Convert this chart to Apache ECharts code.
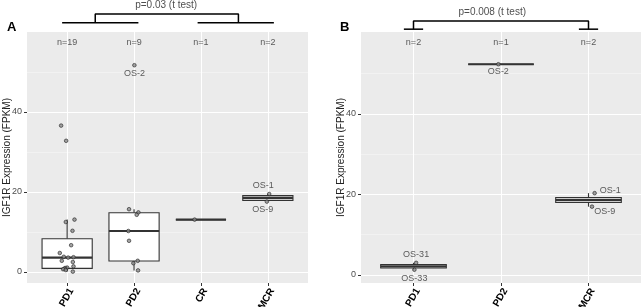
<!DOCTYPE html>
<html>
<head>
<meta charset="utf-8">
<script src="https://cdn.jsdelivr.net/npm/echarts@6/dist/echarts.min.js"></script>
<style>
  html, body { margin: 0; padding: 0; background: #fff; }
  #chart { width: 643px; height: 307px; }
</style>
</head>
<body>
<div id="chart"></div>
<script>
// panel A
const groupsA = ['PD1', 'PD2', 'CR', 'MCR'];
const countsA = ['n=19', 'n=9', 'n=1', 'n=2'];
// [min, q1, median, q3, max]
const boxA = [
  [0.1, 0.9, 3.6, 8.3, 13.1],
  [0.4, 2.75, 10.25, 14.8, 15.7],
  [13.1, 13.1, 13.1, 13.1, 13.1],
  [17.6, 17.9, 18.55, 19.1, 19.5]
];
// [group, jitter, FPKM, sample]
const pointsA = [
  [0, -0.09, 36.6, ''], [0, -0.015, 32.8, ''], [0, 0.11, 13.1, ''], [0, -0.02, 12.5, ''],
  [0, 0.08, 10.3, ''], [0, 0.06, 6.7, ''], [0, -0.11, 4.75, ''], [0, -0.05, 3.8, ''],
  [0, 0.095, 3.7, ''], [0, 0.015, 3.6, ''], [0, -0.08, 2.8, ''], [0, 0.085, 2.5, ''],
  [0, 0.095, 1.4, ''], [0, 0, 1.1, ''], [0, -0.03, 1.0, ''], [0, -0.04, 0.8, ''],
  [0, -0.06, 0.7, ''], [0, -0.02, 0.5, ''], [0, 0.085, 0.1, ''],
  [1, 0.005, 51.7, 'OS-2'], [1, -0.075, 15.7, ''], [1, 0.065, 14.9, ''], [1, 0.04, 14.3, ''],
  [1, -0.085, 10.25, ''], [1, -0.075, 7.8, ''], [1, 0.055, 2.8, ''], [1, -0.01, 2.2, ''],
  [1, 0.06, 0.4, ''],
  [2, -0.095, 13.1, ''],
  [3, 0.02, 19.5, 'OS-1'], [3, -0.015, 17.6, 'OS-9']
];
const bracketA = [
  [[-0.075, 62.3], [1.065, 62.3]],
  [[0.42, 62.3], [0.42, 64.5], [2.56, 64.5], [2.56, 62.3]],
  [[1.95, 62.3], [3.09, 62.3]]
];
const pTextA = 'p=0.03 (t test)';

// panel B
const groupsB = ['PD1', 'PD2', 'MCR'];
const countsB = ['n=2', 'n=1', 'n=2'];
const boxB = [
  [1.3, 1.73, 2.15, 2.58, 3.0],
  [52.3, 52.3, 52.3, 52.3, 52.3],
  [16.95, 18.0, 18.6, 19.2, 20.3]
];
const pointsB = [
  [0, 0.03, 3.0, 'OS-31'], [0, 0.01, 1.3, 'OS-33'],
  [1, -0.03, 52.3, 'OS-2'],
  [2, 0.07, 20.3, 'OS-1'], [2, 0.04, 16.95, 'OS-9']
];
const bracketB = [
  [[-0.11, 61], [0.11, 61]],
  [[0, 61], [0, 63], [2, 63], [2, 61]],
  [[1.89, 61], [2.11, 61]]
];
const pTextB = 'p=0.008 (t test)';

const yTicks = [0, 20, 40];
const yMinor = [10, 30, 50];

const FONT = '"Liberation Sans", Arial, sans-serif';
const INK = '#333';

// where each sample label sits relative to its point
const labelPlace = {
  'A:OS-2': { position: 'bottom', distance: 2 },
  'A:OS-1': { position: 'top', distance: 2, offset: [-6, 0] },
  'A:OS-9': { position: 'bottom', distance: 1, offset: [-4, 0] },
  'B:OS-31': { position: 'top', distance: 2 },
  'B:OS-33': { position: 'bottom', distance: 2 },
  'B:OS-2': { position: 'bottom', distance: 1 },
  'B:OS-1': { position: 'right', distance: 3, offset: [0, -3] },
  'B:OS-9': { position: 'right', distance: 0, offset: [0, 5] }
};

function renderBox(params, api) {
  const x = api.value(0);
  const hw = api.size([0.75, 0])[0] / 2;
  const at = (i) => api.coord([x, api.value(i)]);
  const lo = at(1), q1 = at(2), md = at(3), q3 = at(4), hi = at(5);
  const stroke = { stroke: INK, lineWidth: 1.1 };
  return {
    type: 'group',
    children: [
      { type: 'line', shape: { x1: lo[0], y1: lo[1], x2: q1[0], y2: q1[1] }, style: stroke },
      { type: 'line', shape: { x1: q3[0], y1: q3[1], x2: hi[0], y2: hi[1] }, style: stroke },
      { type: 'rect', shape: { x: q3[0] - hw, y: q3[1], width: hw * 2, height: q1[1] - q3[1] },
        style: { fill: '#fff', stroke: INK, lineWidth: 1.1 } },
      { type: 'line', shape: { x1: md[0] - hw, y1: md[1], x2: md[0] + hw, y2: md[1] },
        style: { stroke: INK, lineWidth: 2.2 } }
    ]
  };
}

const option = {
  animation: false,
  textStyle: { fontFamily: FONT },
  title: [
    { text: 'A', left: 2, top: 16, textStyle: { fontSize: 13, fontWeight: 'bold', color: '#000', fontFamily: FONT } },
    { text: 'B', left: 335, top: 16, textStyle: { fontSize: 13, fontWeight: 'bold', color: '#000', fontFamily: FONT } }
  ],
  grid: [],
  xAxis: [],
  yAxis: [],
  series: []
};

function addPanel(idx, key, groups, counts, boxes, points, bracket, pText, pAt, box, yMin, yMax, countY) {
  option.grid.push(Object.assign({
    show: true, backgroundColor: '#ebebeb', borderWidth: 0,
    containLabel: false, outerBoundsMode: 'none'
  }, box));
  const cats = groups.map((_, i) => i);
  option.xAxis.push({
    type: 'value', gridIndex: idx, min: -0.6, max: groups.length - 0.4,
    axisLine: { show: false, onZero: false },
    splitLine: { show: false },
    axisTick: { show: true, customValues: cats, length: 3, lineStyle: { color: INK } },
    axisLabel: {
      customValues: cats, rotate: 60, margin: 3.5, verticalAlign: 'top',
      fontSize: 10, fontWeight: 'bold', color: '#000',
      fontFamily: FONT, formatter: (v) => groups[Math.round(v)]
    }
  });
  option.yAxis.push({
    type: 'value', gridIndex: idx, min: yMin, max: yMax,
    name: 'IGF1R Expression (FPKM)', nameLocation: 'middle', nameGap: 15, nameMoveOverlap: false,
    nameTextStyle: { fontSize: 10, color: '#222', fontFamily: FONT },
    axisLine: { show: false, onZero: false },
    splitLine: { show: false },
    axisTick: { show: true, customValues: yTicks, length: 3, lineStyle: { color: INK } },
    axisLabel: { customValues: yTicks, margin: 5, fontSize: 9, color: '#4d4d4d', fontFamily: FONT }
  });

  // panel grid lines
  const solid = (color, width) => ({ color, width, type: 'solid' });
  const gl = [];
  yMinor.forEach((v) => gl.push({ yAxis: v, lineStyle: solid('#f7f7f7', 0.6) }));
  yTicks.forEach((v) => gl.push({ yAxis: v, lineStyle: solid('#fff', 1.1) }));
  cats.forEach((v) => gl.push({ xAxis: v, lineStyle: solid('#fff', 1.1) }));
  option.series.push({
    type: 'scatter', xAxisIndex: idx, yAxisIndex: idx, data: [], z: 1, silent: true,
    markLine: {
      z: 1, silent: true, symbol: ['none', 'none'], label: { show: false },
      lineStyle: { type: 'solid' }, data: gl, animation: false
    }
  });

  option.series.push({
    type: 'custom', xAxisIndex: idx, yAxisIndex: idx, z: 2, silent: true,
    renderItem: renderBox,
    encode: { x: 0, y: [1, 2, 3, 4, 5] },
    data: boxes.map((b, i) => [i].concat(b))
  });

  option.series.push({
    type: 'scatter', xAxisIndex: idx, yAxisIndex: idx, z: 3, silent: true,
    symbolSize: 3.6,
    itemStyle: { color: '#8c8c8c', borderColor: '#222', borderWidth: 0.8 },
    data: points.map(([g, dx, y, name]) => {
      const item = { value: [g + dx, y] };
      if (name) {
        const place = labelPlace[key + ':' + name];
        item.label = Object.assign({ show: true, formatter: name, fontSize: 9, color: INK, fontFamily: FONT }, place);
      }
      return item;
    })
  });

  // group sizes
  option.series.push({
    type: 'scatter', xAxisIndex: idx, yAxisIndex: idx, z: 3, silent: true, symbolSize: 1,
    itemStyle: { color: 'transparent' },
    label: { show: true, position: 'inside', fontSize: 9, color: INK, fontFamily: FONT, formatter: (p) => counts[p.dataIndex] },
    data: cats.map((i) => [i, countY])
  });

  // comparison bracket
  bracket.forEach((seg) => {
    option.series.push({
      type: 'line', xAxisIndex: idx, yAxisIndex: idx, z: 4, silent: true, clip: false,
      symbol: 'none', lineStyle: { color: '#000', width: 1.5 }, data: seg
    });
  });
  option.series.push({
    type: 'scatter', xAxisIndex: idx, yAxisIndex: idx, z: 4, silent: true, clip: false, symbolSize: 1,
    itemStyle: { color: 'transparent' },
    label: { show: true, position: 'inside', fontSize: 10, color: '#222', fontFamily: FONT, formatter: pText },
    data: [pAt]
  });
}

addPanel(0, 'A', groupsA, countsA, boxA, pointsA, bracketA, pTextA, [1.48, 66.6],
  { left: 27, top: 32, width: 281, height: 251 }, -2.75, 60, 57.4);
addPanel(1, 'B', groupsB, countsB, boxB, pointsB, bracketB, pTextB, [0.9, 65.3],
  { left: 361, top: 32, width: 280, height: 251 }, -2.0, 60.3, 57.6);

const chart = echarts.init(document.getElementById('chart'), null, { renderer: 'canvas' });
chart.setOption(option);
</script>
</body>
</html>
